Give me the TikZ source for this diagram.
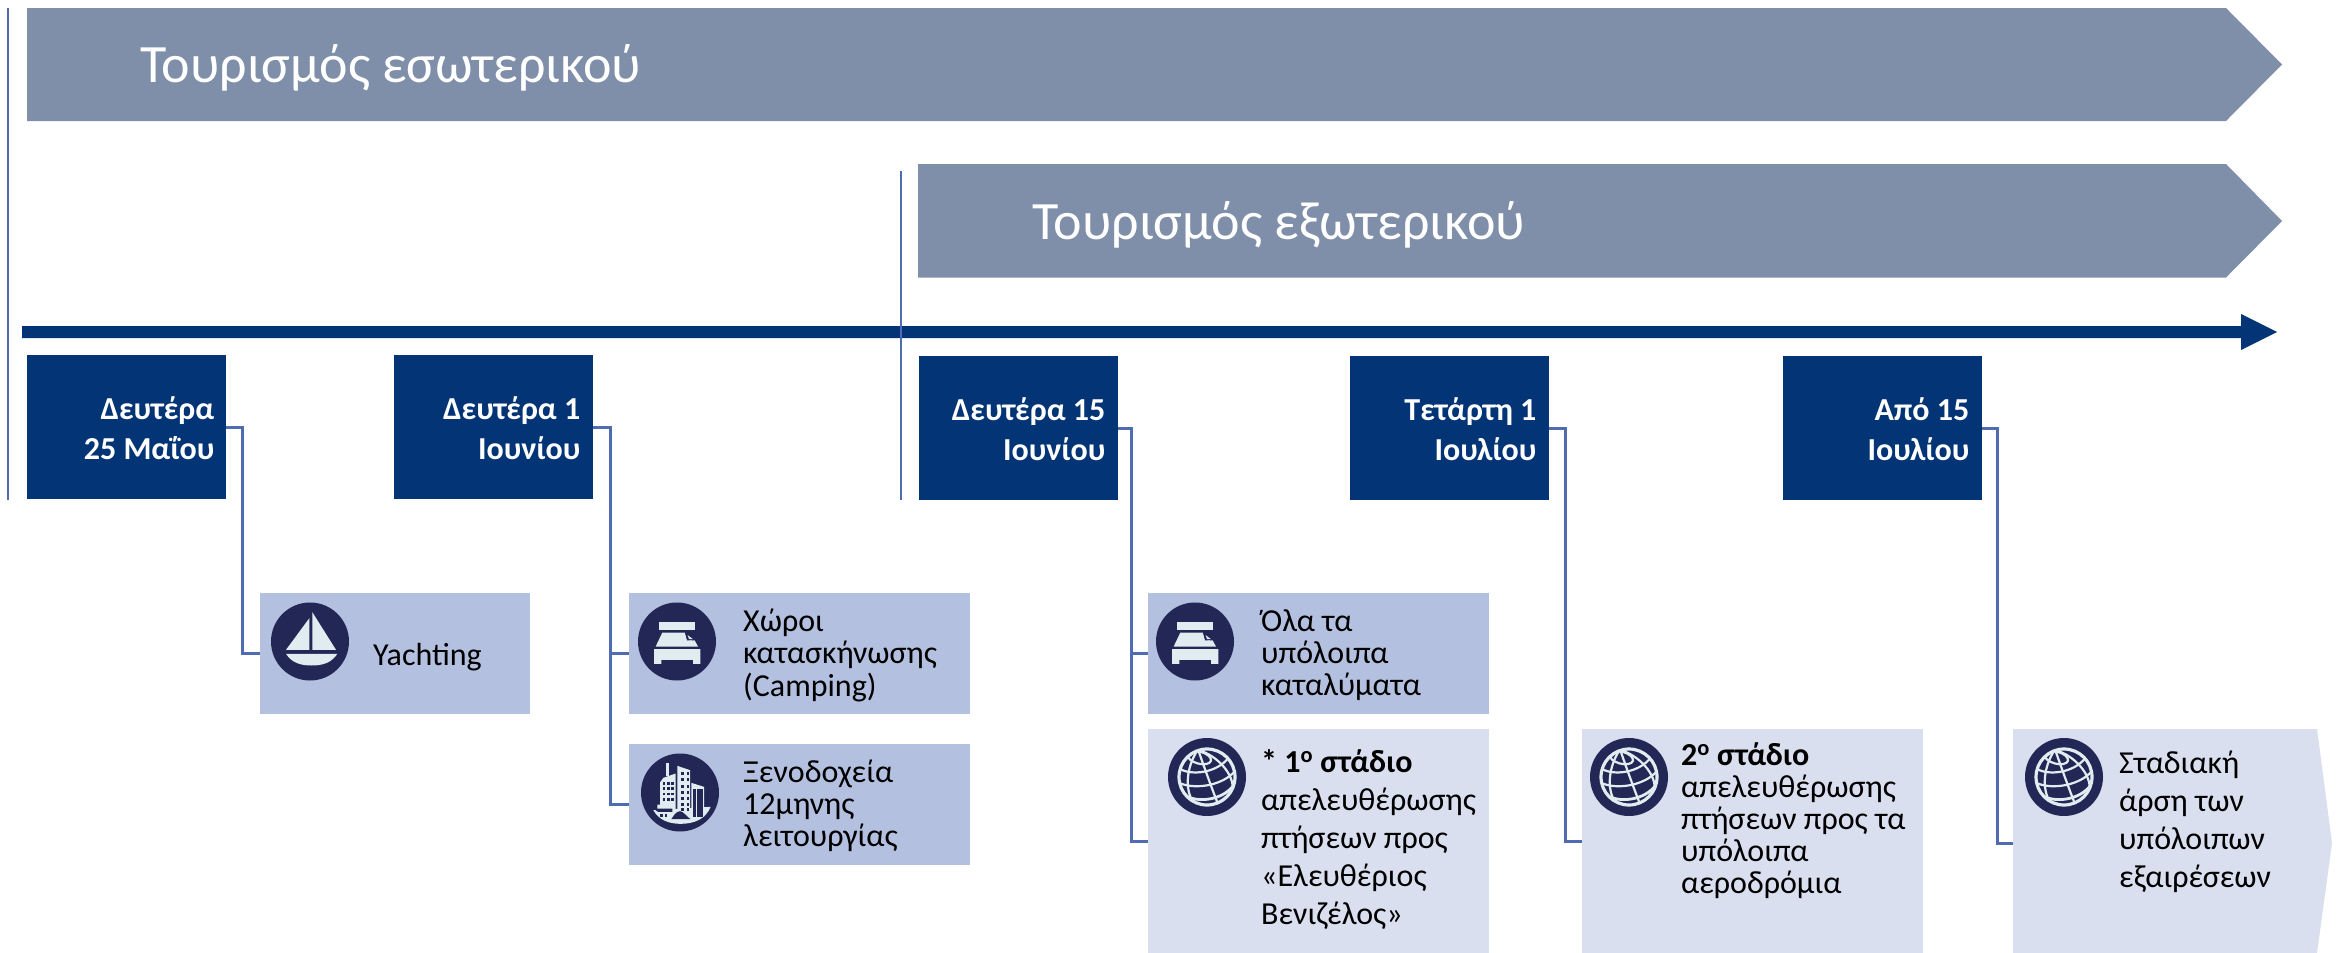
\documentclass[tikz,border=0pt]{standalone}
\usepackage{fontspec}
\setmainfont{Carlito}
\definecolor{bannerc}{HTML}{808FA9}
\definecolor{navyc}{HTML}{023476}
\definecolor{connc}{HTML}{4F6BB2}
\definecolor{itemc}{HTML}{B4C0DF}
\definecolor{lightc}{HTML}{DADFEF}
\definecolor{iconbg}{HTML}{232755}
\definecolor{iconfg}{HTML}{E0ECEF}
\newcommand{\tlines}[2][l]{\begin{tabular}[t]{@{}#1@{}}#2\end{tabular}}
\newcommand{\supo}{\textsuperscript{o}}
\tikzset{
  x=1pt,y=-1pt,
  banner/.style={fill=bannerc},
  bannertext/.style={anchor=base west,inner sep=0,text=white,font=\fontsize{54}{60}\selectfont},
  datebox/.style={fill=navyc,anchor=north west,minimum width=199pt,minimum height=144pt,inner sep=0},
  datetext/.style={anchor=base east,inner sep=0,text=white,font=\fontsize{32}{40}\selectfont\bfseries},
  itembox/.style={fill=itemc,anchor=north west,minimum width=341pt,minimum height=121pt,inner sep=0},
  lightbox/.style={fill=lightc,anchor=north west,minimum width=341pt,minimum height=224pt,inner sep=0},
  itemtext/.style={anchor=base west,inner sep=0,text=black,font=\fontsize{32}{32}\selectfont},
  widetext/.style={anchor=base west,inner sep=0,text=black,font=\fontsize{32}{38}\selectfont},
  conn/.style={draw=connc,line width=3pt},
  rulev/.style={draw=connc,line width=1.8pt},
  iconcircle/.style={circle,fill=iconbg,minimum size=78pt,inner sep=0},
  boaticon/.pic={\begin{scope}[scale=0.3333,shift={(-150,-155)}]
    \fill[iconfg] (78,180)--(148,85)--(148,180)--cycle;
    \fill[iconfg] (157,67)--(157,180)--(228,180)--cycle;
    \fill[iconfg] (78,192)--(232,192) .. controls (215,218) and (190,227) .. (155,227) .. controls (120,227) and (95,218) .. (78,192)--cycle;
  \end{scope}},
  bedicon/.pic={\begin{scope}[scale=0.3333,shift={(-142,-155)}]
    \fill[iconfg] (87,97) rectangle (197,120);
    \fill[iconfg] (98,128)--(165,128)--(172,150)--(195,152)--(205,170)--(78,170)--cycle;
    \fill[iconfg] (73,178)--(212,178)--(212,222)--(190,222)--(190,210)--(95,210)--(95,222)--(73,222)--cycle;
    \fill[iconbg] (168,128)--(175,128)--(197,150)--(172,152)--cycle;
    \fill[iconfg] (174,136)--(190,148)--(178,148)--cycle;
  \end{scope}},
  cityicon/.pic={\begin{scope}[scale=0.3333,shift={(-148,-142)}]
    \draw[iconfg,line width=3pt] (110,52)--(110,92);
    \fill[iconfg] (68,195)--(240,185) .. controls (225,222) and (190,236) .. (150,236) .. controls (115,236) and (85,225) .. (68,195)--cycle;
    \fill[iconfg] (98,98)--(135,85)--(135,195)--(80,195)--(80,178)--(88,178)--(88,112)--cycle;
    \fill[iconfg] (140,62)--(178,75)--(178,205)--(140,205)--cycle;
    \fill[iconfg] (182,113)--(220,125)--(220,215)--(182,215)--cycle;
    \foreach \wx in {100,113,126}{\foreach \wy in {115,130,146,162}{\fill[iconbg] (\wx-4,\wy-4) rectangle (\wx+4,\wy+4);}}
    \foreach \wx in {156,172}{\foreach \wy in {85,103,124,142,160,178,192}{\fill[iconbg] (\wx-4,\wy-4) rectangle (\wx+4,\wy+4);}}
    \foreach \wx in {192,202,212}{\draw[iconbg,line width=3pt] (\wx,132)--(\wx,215);}
    \fill[iconbg] (68,190)--(125,190)--(125,200)--(82,200)--cycle;
    \fill[iconbg] (122,222) .. controls (130,210) and (135,200) .. (148,198) .. controls (160,200) and (168,215) .. (180,222)--cycle;
    \fill[iconbg] (88,206) rectangle (96,216);
    \fill[iconbg] (102,206) rectangle (110,216);
  \end{scope}},
  globeicon/.pic={\begin{scope}[scale=0.3333,shift={(-141,-142)}]
    \draw[iconfg,line width=3.2pt] (141,142) circle (84);
    \begin{scope}
      \clip (141,142) circle (86);
      \draw[iconfg,line width=2.2pt] (118,84) ellipse [x radius=36,y radius=18,rotate=-15];
      \draw[iconfg,line width=2.2pt] (60,118) .. controls (95,138) and (170,130) .. (205,85);
      \draw[iconfg,line width=2.2pt] (58,160) .. controls (110,182) and (190,165) .. (224,125);
      \draw[iconfg,line width=2.8pt] (72,195) .. controls (110,222) and (190,212) .. (222,165);
      \draw[iconfg,line width=2.2pt] (115,58) .. controls (85,100) and (72,165) .. (95,210);
      \draw[iconfg,line width=2.2pt] (115,62) .. controls (130,105) and (155,175) .. (172,218);
      \draw[iconfg,line width=2.2pt] (118,62) .. controls (175,80) and (222,135) .. (218,180);
    \end{scope}
  \end{scope}}
}
\begin{document}
\begin{tikzpicture}
\useasboundingbox (0,0) rectangle (2348,953);
\fill[white] (0,0) rectangle (2348,953);
% banners
\fill[banner] (27,8)--(2226,8)--(2282,64.5)--(2226,121)--(27,121)--cycle;
\fill[banner] (918,164)--(2226,164)--(2282,221)--(2226,277.5)--(918,277.5)--cycle;
\node[bannertext] (tdom) at (140,82) {Τουρισμός εσωτερικού};
\node[bannertext] (tfor) at (1032,239) {Τουρισμός εξωτερικού};
% timeline arrow
\fill[navyc] (22,326)--(2241,326)--(2241,314)--(2277,332)--(2241,350)--(2241,338)--(22,338)--cycle;
% phase rules
\coordinate (ra) at (8,8); \coordinate (rb) at (8,500);
\coordinate (rc) at (901,171); \coordinate (rd) at (901,500);
\draw[rulev] (ra)--(rb);
\draw[rulev] (rc)--(rd);
% date boxes
\node[datebox] (d1) at (27,355) {};
\node[datebox] (d2) at (394,355) {};
\node[datebox] (d3) at (919,356) {};
\node[datebox] (d4) at (1350,356) {};
\node[datebox] (d5) at (1783,356) {};
\node[datetext] (dt1) at (214.5,419.5) {\tlines[r]{Δευτέρα\\25 Μαΐου}};
\node[datetext] (dt2) at (580.5,419.5) {\tlines[r]{Δευτέρα 1\\Ιουνίου}};
\node[datetext] (dt3) at (1105.5,420) {\tlines[r]{Δευτέρα 15\\Ιουνίου}};
\node[datetext] (dt4) at (1536.5,420) {\tlines[r]{Τετάρτη 1\\Ιουλίου}};
\node[datetext] (dt5) at (1969.5,420) {\tlines[r]{Από 15\\Ιουλίου}};
% item boxes
\node[itembox,minimum width=270pt] (i1) at (260,593) {};
\node[itembox] (i2) at (629,593) {};
\node[itembox] (i3) at (629,744) {};
\node[itembox] (i4) at (1148,593) {};
\node[lightbox] (i5) at (1148,729) {};
\node[lightbox] (i6) at (1582,729) {};
\fill[lightc] (2013,729)--(2317,729)--(2332,843)--(2317,953)--(2013,953)--cycle;
\coordinate (i7) at (2013,843);
% connectors
\draw[conn] (d1.east)--++(16,0)|-(i1.west);
\draw[conn] (d2.east)--++(17,0)|-(i2.west);
\draw[conn] (d2.east)--++(17,0)|-(i3.west);
\draw[conn] (d3.east)--++(13,0)|-(i4.west);
\draw[conn] (d3.east)--++(13,0)|-(i5.west);
\draw[conn] (d4.east)--++(16,0)|-(i6.west);
\draw[conn] (d5.east)--++(15,0)|-(i7);
% icons
\node[iconcircle] (c1) at (310,641.5) {}; \pic at (c1) {boaticon};
\node[iconcircle] (c2) at (677,641.5) {}; \pic at (c2) {bedicon};
\node[iconcircle] (c3) at (680,792.5) {}; \pic at (c3) {cityicon};
\node[iconcircle] (c4) at (1195,641.5) {}; \pic at (c4) {bedicon};
\node[iconcircle] (c5) at (1207,777) {}; \pic at (c5) {globeicon};
\node[iconcircle] (c6) at (1629,777) {}; \pic at (c6) {globeicon};
\node[iconcircle] (c7) at (2064,777) {}; \pic at (c7) {globeicon};
% texts
\node[itemtext] (x1) at (373,665) {Yachting};
\node[itemtext] (x2) at (743,631) {\tlines{Χώροι\\κατασκήνωσης\\(Camping)}};
\node[itemtext] (x3) at (743,782) {\tlines{Ξενοδοχεία\\12μηνης\\λειτουργίας}};
\node[itemtext] (x4) at (1261,631) {\tlines{Όλα τα\\υπόλοιπα\\καταλύματα}};
\node[widetext] (x5) at (1261,772) {\tlines{\textbf{* 1\supo{} στάδιο}\\απελευθέρωσης\\πτήσεων προς\\«Ελευθέριος\\Βενιζέλος»}};
\node[itemtext] (x6) at (1681,765) {\tlines{\textbf{2\supo{} στάδιο}\\απελευθέρωσης\\πτήσεων προς τα\\υπόλοιπα\\αεροδρόμια}};
\node[widetext] (x7) at (2119,773) {\tlines{Σταδιακή\\άρση των\\υπόλοιπων\\εξαιρέσεων}};
\end{tikzpicture}
\end{document}
